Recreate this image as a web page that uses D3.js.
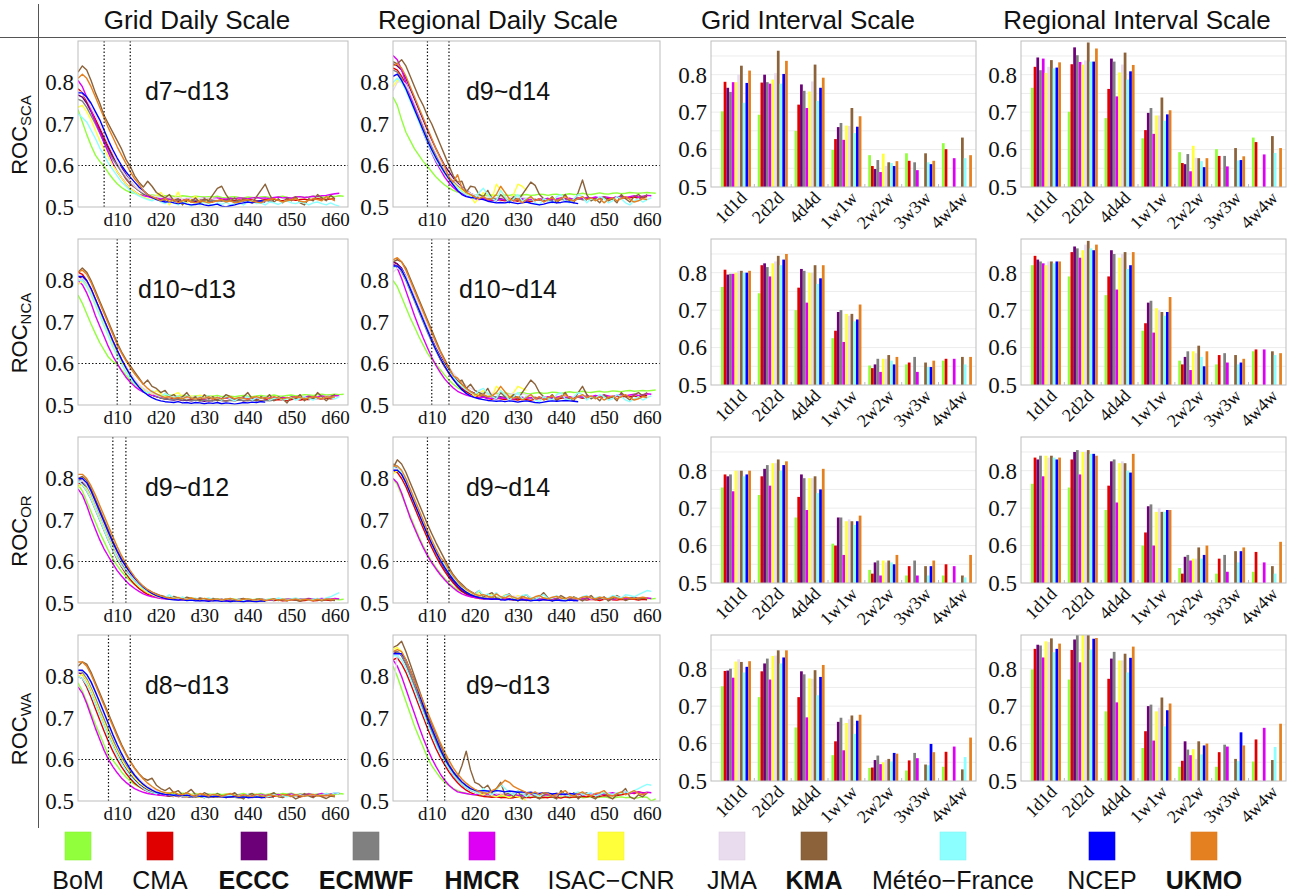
<!DOCTYPE html>
<html><head><meta charset="utf-8">
<script src="https://cdn.jsdelivr.net/npm/d3@7"></script>
<style>body{margin:0;background:#fff}svg{display:block}</style>
</head><body>
<svg id="c" width="1294" height="896"></svg>
<script>
// ---------------- DATA ----------------
const models = ["BoM","CMA","ECCC","ECMWF","HMCR","ISAC\u2212CNR","JMA","KMA","M\u00e9t\u00e9o\u2212France","NCEP","UKMO"];
const boldModels = ["ECCC","ECMWF","HMCR","KMA","UKMO"];
const colors = ["#91ff3b","#e00000","#6b0078","#808080","#dd00f5","#ffff3a","#e8dcee","#8b6239","#8cffff","#0000ff","#e58020"];
const regions = ["SCA","NCA","OR","WA"];
const colTitles = ["Grid Daily Scale","Regional Daily Scale","Grid Interval Scale","Regional Interval Scale"];
const yTicks = [0.5,0.6,0.7,0.8];
const dayTicks = [10,20,30,40,50,60];
const intervals = ["1d1d","2d2d","4d4d","1w1w","2w2w","3w3w","4w4w"];
const gridRanges = [[7,13],[10,13],[9,12],[8,13]];
const regRanges  = [[9,14],[10,14],[9,14],[9,13]];

// daily ROC, one array per model (model order), index 0 = day 1
const dailyGridSCA = [
[.735,.705,.675,.648,.625,.610,.598,.582,.568,.556,.547,.540,.535,.533,.531,.530,.528,.529,.527,.526,.527,.528,.526,.525,.527,.526,.524,.526,.525,.524,.525,.524,.526,.523,.522,.524,.525,.523,.522,.524,.523,.522,.524,.525,.523,.522,.524,.526,.523,.522,.524,.525,.523,.524,.526,.525,.523,.524,.526,.525,.527,.526],
[.785,.775,.755,.735,.712,.690,.668,.645,.625,.603,.585,.568,.555,.548,.540,.533,.528,.524,.522,.520,.519,.521,.518,.517,.519,.520,.518,.516,.518,.517,.519,.516,.515,.517,.518,.516,.515,.517,.516,.518,.517,.515,.516,.518,.517,.519,.516,.515,.517,.518,.516,.518,.519,.517,.518,.520,.519,.518,.520,.519],
[.77,.765,.75,.73,.705,.685,.66,.64,.62,.605,.595,.578,.562,.55,.54,.532,.527,.523,.52,.518,.517,.519,.515,.514,.516,.513,.515,.514,.512,.514,.513,.512],
[.76,.755,.74,.72,.70,.678,.655,.635,.615,.60,.585,.57,.558,.548,.54,.533,.528,.524,.521,.52,.518,.519,.517,.516,.518,.517,.515,.516,.517,.515,.514,.516,.515,.514,.516,.515,.513,.515,.514,.516,.515,.514,.515,.516,.514,.515],
[.805,.79,.765,.735,.705,.68,.655,.63,.605,.585,.57,.556,.545,.537,.53,.527,.525,.522,.521,.52,.522,.519,.52,.518,.52,.519,.521,.518,.52,.521,.519,.52,.522,.52,.519,.521,.52,.522,.521,.52,.522,.523,.521,.522,.52,.523,.524,.522,.523,.521,.524,.525,.523,.524,.526,.525,.527,.528,.53,.532,.533],
[.74,.745,.73,.71,.685,.66,.64,.62,.6,.585,.57,.556,.545,.537,.53,.524,.52,.516,.528,.535,.522,.505,.518,.536,.515,.51,.52,.526,.515,.51,.518,.522],
[.78,.775,.76,.74,.72,.698,.675,.652,.63,.608,.59,.575,.562,.55,.542,.535,.53,.527,.525,.523,.524,.522,.521,.523,.52,.522,.521,.519,.521,.52,.522,.52,.519],
[.825,.84,.83,.805,.775,.75,.72,.7,.68,.66,.64,.615,.598,.575,.56,.548,.562,.55,.535,.528,.522,.53,.515,.52,.505,.518,.512,.522,.51,.52,.515,.53,.545,.55,.53,.515,.522,.51,.52,.515,.51,.525,.54,.555,.53,.512,.52,.51,.522,.515,.525,.51,.505,.52,.515,.53,.522,.515,.528,.52],
[.725,.715,.705,.685,.665,.642,.625,.605,.59,.575,.56,.55,.54,.533,.527,.522,.518,.515,.52,.512,.508,.515,.51,.505,.512,.508,.502,.51,.505,.512,.508,.503,.51,.506,.512,.505,.508,.51,.505,.512,.515,.508,.51,.505,.512,.51,.506,.512,.515,.51,.508,.512,.51,.505,.51,.512,.508,.505,.51,.505,.502],
[.775,.775,.765,.75,.73,.71,.685,.66,.638,.618,.6,.585,.572,.56,.548,.54,.53,.523,.518,.515,.512,.513,.51,.508,.51,.507,.505,.506,.508,.505,.503,.505,.507,.502,.5,.503,.505,.508,.51,.512,.51,.513,.515,.512],
[.81,.82,.81,.79,.765,.74,.715,.69,.668,.645,.625,.605,.585,.568,.555,.54,.53,.525,.52,.515,.52,.513,.518,.51,.515,.518,.512,.51,.515,.513,.51,.512,.515,.518,.512,.515,.51,.512,.516,.518,.514,.512,.51,.515,.518,.52,.516,.512,.515,.518,.52,.514,.512,.516,.52,.518,.515,.525,.52,.515]
];
const dailyRegSCA = [
[.765,.745,.71,.68,.66,.64,.625,.61,.598,.585,.572,.562,.553,.546,.54,.536,.533,.531,.53,.529,.53,.528,.527,.529,.528,.527,.529,.528,.53,.527,.529,.53,.528,.529,.531,.53,.528,.53,.531,.529,.53,.532,.53,.531,.533,.531,.53,.532,.534,.532,.531,.533,.534,.532,.533,.535,.534,.533,.534,.535,.534,.533],
[.835,.83,.815,.795,.77,.745,.72,.695,.67,.645,.625,.605,.588,.572,.56,.55,.54,.533,.528,.524,.52,.522,.518,.516,.519,.517,.515,.518,.516,.514,.517,.515,.513,.516,.518,.515,.517,.519,.516,.518,.52,.517,.519,.521,.518,.52,.522,.519,.521,.523,.52,.522,.524,.521,.523,.522,.524,.521,.523,.525],
[.845,.84,.83,.81,.785,.76,.735,.71,.685,.662,.64,.62,.6,.585,.57,.558,.548,.54,.533,.528,.525,.522,.52,.523,.519,.521,.518,.52,.522,.519,.517,.52],
[.83,.825,.81,.79,.765,.74,.715,.69,.668,.645,.625,.607,.59,.575,.562,.552,.543,.536,.53,.526,.523,.521,.52,.522,.519,.518,.52,.517,.519,.518,.516,.518,.517,.519,.516,.518,.517,.515,.517,.519,.516,.518,.517,.519,.518,.516],
[.865,.855,.83,.8,.77,.74,.71,.68,.655,.63,.608,.59,.572,.558,.547,.538,.532,.527,.523,.52,.518,.52,.516,.518,.515,.519,.517,.52,.515,.518,.52,.517,.519,.516,.52,.518,.521,.517,.52,.522,.519,.521,.518,.522,.52,.523,.521,.524,.522,.525,.523,.521,.524,.526,.523,.525,.527,.524,.526,.528,.527],
[.79,.805,.8,.785,.76,.735,.71,.685,.66,.638,.618,.6,.585,.57,.558,.548,.54,.533,.528,.51,.522,.535,.528,.52,.555,.54,.525,.518,.53,.555,.55,.54],
[.78,.8,.805,.795,.775,.75,.725,.7,.675,.652,.63,.61,.592,.577,.565,.555,.546,.539,.533,.529,.526,.524,.523,.525,.522,.524,.521,.523,.525,.522,.524,.521,.523],
[.85,.845,.855,.84,.815,.79,.765,.745,.72,.7,.675,.65,.625,.6,.575,.56,.562,.535,.55,.548,.53,.525,.54,.52,.515,.53,.52,.51,.525,.515,.53,.545,.56,.552,.53,.52,.515,.525,.51,.52,.53,.515,.51,.535,.565,.53,.515,.52,.51,.525,.515,.52,.51,.53,.52,.512,.525,.53,.522,.53],
[.8,.81,.8,.78,.755,.73,.705,.68,.655,.632,.612,.595,.58,.566,.555,.545,.537,.53,.525,.52,.535,.545,.53,.52,.515,.54,.525,.51,.52,.53,.515,.52,.525,.51,.505,.52,.515,.51,.525,.53,.515,.51,.52,.53,.525,.51,.52,.515,.525,.52,.51,.515,.525,.52,.51,.505,.515,.52,.512,.518,.522],
[.815,.82,.805,.785,.76,.735,.71,.685,.66,.638,.618,.6,.583,.568,.553,.54,.53,.525,.523,.522,.52,.518,.514,.512,.51,.511,.51,.512,.51,.508,.51,.512,.509,.507,.505,.507,.51,.512,.51,.511,.513,.512,.51,.508],
[.84,.845,.835,.815,.79,.765,.74,.715,.69,.665,.64,.618,.598,.57,.56,.578,.545,.535,.53,.524,.52,.525,.518,.52,.53,.55,.535,.52,.515,.52,.51,.518,.525,.515,.52,.512,.518,.522,.515,.52,.525,.518,.515,.52,.525,.518,.522,.515,.52,.51,.518,.522,.515,.52,.525,.518,.512,.515,.52,.518]
];
const dailyGridNCA = [
[.765,.745,.72,.695,.672,.65,.632,.615,.605,.598,.585,.572,.56,.55,.542,.535,.53,.527,.525,.523,.522,.524,.522,.521,.523,.522,.52,.522,.521,.52,.522,.521,.523,.52,.522,.521,.52,.522,.523,.521,.52,.522,.523,.521,.522,.524,.522,.521,.523,.524,.522,.523,.525,.524,.523,.525,.526,.524,.525,.526,.525,.526],
[.82,.815,.8,.78,.755,.73,.705,.68,.655,.632,.61,.592,.575,.56,.548,.538,.53,.524,.52,.517,.515,.514,.516,.513,.512,.514,.513,.511,.513,.512,.51,.512,.514,.511,.51,.512,.511,.513,.51,.512,.511,.513,.51,.512,.514,.511,.513,.512,.51,.513,.515,.512,.514,.513,.515,.516,.514,.517,.515,.516],
[.81,.805,.795,.775,.75,.725,.7,.675,.65,.628,.608,.59,.574,.56,.548,.538,.53,.524,.52,.517,.515,.513,.512,.514,.511,.512,.51,.512,.511,.509,.511,.51],
[.8,.8,.79,.77,.745,.72,.695,.67,.648,.625,.605,.588,.572,.558,.546,.537,.53,.524,.52,.517,.515,.514,.513,.515,.512,.513,.511,.512,.51,.512,.511,.51,.512,.511,.509,.511,.51,.512,.511,.51,.512,.511,.509,.511,.51,.512],
[.8,.79,.77,.745,.715,.69,.665,.64,.618,.6,.582,.567,.555,.545,.537,.531,.527,.524,.522,.52,.519,.521,.518,.517,.519,.518,.516,.518,.517,.515,.517,.516,.518,.515,.517,.516,.514,.516,.518,.515,.517,.516,.518,.515,.517,.519,.516,.518,.517,.519,.52,.518,.519,.521,.519,.52,.522,.52,.521,.523,.522],
[.79,.8,.79,.77,.745,.72,.695,.67,.645,.622,.602,.585,.57,.557,.546,.538,.531,.526,.535,.528,.52,.518,.525,.53,.52,.515,.522,.518,.524,.52,.516,.522],
[.8,.805,.795,.775,.752,.728,.703,.678,.654,.63,.61,.592,.576,.562,.55,.541,.534,.528,.524,.521,.519,.518,.52,.517,.519,.516,.518,.52,.517,.519,.516,.518,.517],
[.82,.83,.82,.8,.775,.75,.725,.7,.675,.65,.628,.61,.595,.58,.565,.55,.56,.545,.54,.53,.535,.52,.525,.515,.52,.53,.515,.52,.51,.525,.515,.52,.51,.515,.525,.52,.51,.515,.52,.53,.515,.51,.52,.515,.525,.51,.52,.515,.505,.52,.515,.525,.51,.52,.515,.53,.52,.51,.52,.525],
[.8,.8,.785,.765,.74,.715,.69,.665,.64,.618,.598,.58,.565,.552,.542,.534,.528,.535,.525,.52,.528,.522,.518,.52,.515,.522,.518,.514,.52,.516,.522,.515,.518,.512,.52,.515,.51,.518,.515,.52,.512,.518,.515,.52,.512,.516,.518,.512,.515,.518,.512,.515,.52,.515,.512,.518,.515,.52,.518,.515,.52],
[.81,.81,.8,.78,.755,.73,.705,.68,.655,.632,.61,.59,.572,.556,.543,.532,.524,.518,.513,.51,.508,.507,.506,.508,.505,.506,.504,.506,.505,.503,.505,.504,.506,.503,.505,.504,.502,.504,.506,.505,.507,.506,.508,.507],
[.82,.825,.815,.795,.77,.745,.72,.695,.67,.645,.625,.607,.59,.575,.562,.55,.54,.532,.527,.522,.518,.52,.516,.518,.515,.52,.517,.514,.518,.516,.52,.515,.518,.514,.517,.52,.515,.518,.516,.514,.518,.52,.516,.518,.515,.52,.517,.514,.518,.516,.52,.518,.515,.517,.52,.518,.515,.52,.518,.52]
];
const dailyRegNCA = [
[.8,.785,.76,.735,.71,.688,.665,.645,.625,.61,.598,.585,.572,.56,.55,.542,.536,.532,.53,.528,.527,.529,.528,.526,.528,.527,.529,.527,.526,.528,.53,.528,.527,.529,.53,.528,.529,.531,.53,.528,.53,.532,.53,.531,.533,.531,.53,.532,.533,.531,.532,.534,.533,.532,.534,.535,.533,.534,.535,.534,.535,.536],
[.845,.84,.825,.805,.78,.755,.73,.705,.68,.655,.632,.61,.592,.576,.562,.55,.54,.532,.526,.522,.518,.52,.516,.514,.517,.515,.513,.516,.514,.512,.515,.513,.511,.514,.516,.513,.515,.517,.514,.516,.518,.515,.517,.519,.516,.518,.52,.517,.519,.521,.518,.52,.522,.519,.521,.52,.522,.519,.521,.523],
[.845,.84,.83,.81,.785,.76,.735,.71,.685,.66,.638,.618,.6,.584,.57,.558,.548,.54,.533,.528,.524,.521,.519,.522,.518,.52,.517,.519,.521,.518,.516,.519],
[.84,.835,.82,.8,.775,.75,.725,.7,.675,.652,.63,.61,.593,.578,.565,.554,.545,.537,.531,.527,.524,.522,.52,.522,.519,.518,.52,.517,.519,.518,.516,.518,.517,.519,.516,.518,.517,.515,.517,.519,.516,.518,.517,.519,.518,.516],
[.84,.83,.805,.775,.745,.715,.688,.662,.638,.615,.595,.578,.563,.551,.541,.533,.528,.524,.521,.519,.517,.519,.515,.517,.514,.518,.516,.519,.514,.517,.519,.516,.518,.515,.519,.517,.52,.516,.519,.521,.518,.52,.517,.521,.519,.522,.52,.523,.521,.524,.522,.52,.523,.525,.522,.524,.526,.523,.525,.527,.526],
[.83,.835,.825,.805,.78,.755,.73,.705,.68,.655,.632,.612,.595,.58,.566,.555,.546,.538,.532,.52,.528,.535,.525,.52,.545,.535,.525,.518,.53,.545,.54,.535],
[.82,.83,.825,.81,.79,.765,.74,.715,.69,.667,.645,.625,.607,.591,.577,.565,.555,.547,.54,.535,.531,.528,.526,.528,.525,.527,.524,.526,.528,.525,.527,.524,.526],
[.845,.85,.845,.83,.805,.78,.755,.73,.705,.68,.655,.63,.61,.59,.57,.555,.56,.54,.55,.535,.53,.525,.54,.52,.515,.53,.52,.515,.525,.515,.53,.545,.56,.55,.53,.52,.515,.525,.51,.52,.53,.515,.51,.53,.545,.525,.515,.52,.51,.525,.515,.52,.51,.53,.52,.512,.525,.53,.522,.53],
[.83,.835,.825,.805,.78,.755,.73,.705,.68,.655,.633,.613,.596,.58,.567,.555,.545,.537,.53,.525,.535,.54,.528,.52,.515,.535,.525,.512,.52,.53,.515,.52,.525,.512,.508,.52,.515,.512,.525,.53,.515,.512,.52,.53,.525,.512,.52,.515,.525,.52,.512,.515,.525,.52,.512,.508,.515,.52,.512,.518,.522],
[.835,.835,.825,.805,.78,.755,.73,.705,.68,.655,.632,.612,.594,.577,.562,.548,.537,.528,.522,.518,.515,.513,.511,.51,.509,.51,.508,.51,.509,.507,.509,.51,.508,.506,.505,.507,.509,.51,.509,.51,.511,.51,.509,.508],
[.85,.855,.845,.825,.8,.775,.75,.725,.7,.675,.65,.628,.607,.588,.57,.565,.55,.54,.532,.526,.522,.525,.52,.522,.53,.545,.532,.52,.516,.52,.512,.518,.525,.515,.52,.512,.518,.522,.515,.52,.525,.518,.515,.52,.525,.518,.522,.515,.52,.512,.518,.522,.515,.52,.525,.518,.512,.515,.52,.518]
];
const dailyGridOR = [
[.785,.77,.745,.72,.695,.67,.648,.626,.606,.59,.576,.564,.553,.544,.536,.53,.525,.521,.518,.516,.514,.513,.512,.511,.512,.51,.511,.51,.509,.51,.511,.509,.51,.509,.508,.51,.509,.508,.509,.51,.508,.509,.51,.508,.509,.51,.508,.509,.51,.509,.508,.51,.509,.508,.51,.509,.508,.509,.51,.509,.508,.509],
[.79,.785,.77,.75,.725,.7,.675,.65,.627,.605,.587,.571,.557,.545,.535,.527,.521,.517,.514,.512,.511,.51,.509,.51,.508,.509,.507,.508,.506,.508,.507,.506,.508,.507,.505,.507,.506,.508,.507,.505,.507,.506,.505,.507,.508,.506,.507,.505,.506,.508,.507,.505,.506,.507,.505,.506,.508,.507,.506,.507],
[.795,.79,.775,.755,.73,.705,.68,.655,.632,.61,.592,.577,.563,.551,.541,.533,.526,.521,.517,.514,.512,.511,.51,.509,.51,.508,.509,.507,.508,.507,.506,.507],
[.8,.795,.78,.76,.735,.71,.685,.66,.637,.615,.597,.58,.566,.553,.542,.533,.526,.52,.516,.513,.511,.51,.509,.508,.509,.507,.508,.507,.506,.507,.508,.506,.507,.505,.506,.507,.505,.506,.507,.505,.506,.504,.506,.505,.507,.506],
[.775,.76,.735,.705,.678,.652,.63,.612,.595,.578,.565,.553,.543,.535,.528,.522,.518,.515,.513,.511,.51,.509,.51,.508,.509,.507,.508,.509,.507,.508,.506,.508,.507,.509,.506,.508,.507,.509,.508,.506,.508,.507,.509,.508,.507,.509,.51,.508,.509,.51,.508,.509,.51,.511,.509,.51,.511,.51,.509,.511,.51],
[.78,.785,.775,.755,.73,.705,.68,.655,.632,.61,.59,.575,.562,.55,.54,.532,.525,.52,.516,.513,.515,.512,.51,.514,.511,.509,.512,.51,.508,.511,.509,.51],
[.79,.795,.785,.765,.74,.715,.69,.665,.641,.619,.6,.584,.57,.558,.547,.538,.531,.525,.52,.517,.514,.512,.511,.512,.51,.511,.509,.51,.511,.509,.51,.508,.509],
[.8,.805,.795,.775,.75,.725,.7,.675,.65,.627,.607,.59,.575,.562,.55,.54,.532,.526,.522,.518,.515,.513,.516,.512,.51,.514,.511,.508,.512,.51,.507,.511,.509,.506,.51,.508,.505,.509,.511,.507,.505,.509,.51,.506,.508,.51,.506,.508,.505,.509,.507,.504,.508,.51,.506,.508,.505,.509,.507,.506],
[.795,.785,.77,.75,.725,.7,.675,.65,.628,.607,.59,.575,.563,.552,.543,.535,.528,.523,.519,.515,.513,.52,.512,.51,.515,.508,.51,.512,.507,.51,.512,.508,.51,.506,.509,.511,.507,.509,.506,.51,.508,.505,.509,.507,.51,.508,.512,.509,.507,.51,.512,.508,.51,.507,.509,.511,.508,.512,.515,.52,.525],
[.8,.8,.79,.77,.745,.72,.695,.67,.646,.624,.604,.588,.573,.56,.548,.538,.53,.523,.518,.514,.511,.509,.508,.507,.508,.506,.507,.505,.506,.505,.504,.506,.505,.504,.505,.503,.505,.504,.503,.505,.504,.503,.505,.504],
[.81,.81,.8,.782,.76,.735,.71,.685,.66,.636,.614,.595,.578,.563,.55,.54,.532,.526,.521,.517,.514,.512,.511,.513,.51,.509,.512,.51,.508,.511,.509,.508,.51,.507,.509,.511,.508,.506,.509,.51,.508,.507,.509,.506,.508,.51,.507,.509,.506,.508,.51,.507,.509,.508,.506,.509,.507,.51,.508,.509]
];
const dailyRegOR = [
[.8,.785,.76,.735,.71,.685,.66,.638,.618,.6,.585,.571,.559,.548,.539,.532,.527,.523,.52,.518,.516,.515,.514,.513,.514,.512,.513,.512,.511,.512,.513,.511,.512,.511,.51,.512,.511,.51,.511,.512,.51,.511,.512,.51,.511,.512,.51,.511,.512,.511,.51,.512,.511,.51,.512,.511,.51,.511,.512,.511,.51,.511],
[.82,.815,.8,.78,.755,.73,.705,.68,.656,.633,.612,.593,.576,.561,.548,.537,.528,.521,.516,.513,.511,.51,.512,.509,.51,.508,.51,.509,.507,.509,.508,.506,.508,.51,.507,.509,.508,.506,.508,.509,.507,.508,.506,.508,.51,.507,.509,.508,.506,.509,.51,.508,.507,.509,.508,.51,.509,.507,.509,.508],
[.83,.825,.81,.79,.765,.74,.715,.69,.665,.642,.62,.6,.582,.566,.552,.54,.53,.523,.518,.515,.513,.511,.51,.512,.509,.51,.508,.51,.509,.507,.509,.508],
[.835,.83,.815,.795,.77,.745,.72,.695,.67,.647,.625,.605,.588,.572,.558,.546,.536,.528,.522,.518,.515,.513,.512,.51,.511,.509,.51,.508,.51,.509,.507,.509,.508,.51,.507,.509,.508,.506,.508,.51,.507,.509,.508,.51,.509,.507],
[.8,.79,.765,.735,.705,.68,.656,.634,.614,.597,.582,.568,.556,.545,.536,.528,.522,.518,.515,.513,.512,.51,.511,.509,.51,.508,.51,.509,.511,.508,.51,.509,.511,.508,.51,.509,.507,.509,.511,.508,.51,.509,.511,.508,.51,.512,.509,.511,.51,.512,.51,.508,.511,.513,.51,.512,.514,.511,.513,.512,.511],
[.81,.82,.81,.79,.765,.74,.715,.69,.666,.643,.622,.603,.586,.571,.558,.547,.538,.53,.524,.52,.525,.518,.515,.522,.516,.512,.52,.515,.51,.518,.514,.512],
[.82,.825,.815,.795,.77,.745,.72,.695,.671,.648,.627,.607,.59,.575,.562,.55,.54,.532,.526,.521,.518,.516,.515,.517,.514,.516,.513,.515,.517,.514,.516,.513,.515],
[.825,.845,.835,.815,.79,.765,.74,.715,.69,.667,.645,.625,.605,.585,.568,.555,.545,.535,.528,.522,.53,.515,.52,.525,.512,.51,.518,.522,.51,.505,.515,.52,.51,.508,.515,.525,.512,.505,.51,.518,.512,.506,.515,.51,.505,.512,.518,.508,.51,.515,.505,.51,.518,.512,.506,.51,.515,.508,.512,.51],
[.825,.83,.815,.795,.77,.745,.72,.695,.671,.648,.627,.608,.591,.576,.562,.55,.54,.532,.526,.52,.53,.518,.522,.515,.525,.512,.518,.52,.512,.51,.518,.52,.512,.508,.515,.52,.51,.512,.518,.51,.508,.515,.512,.51,.515,.518,.51,.512,.515,.51,.512,.518,.515,.512,.52,.518,.515,.52,.525,.53,.528],
[.82,.82,.81,.79,.765,.74,.715,.69,.666,.643,.622,.603,.586,.57,.556,.544,.534,.526,.52,.516,.513,.511,.51,.509,.51,.508,.507,.509,.508,.506,.508,.507,.505,.507,.506,.508,.507,.505,.507,.506,.505,.507,.506,.505],
[.83,.83,.82,.8,.775,.75,.725,.7,.675,.652,.63,.61,.598,.58,.565,.552,.541,.533,.527,.521,.518,.52,.516,.514,.522,.515,.512,.518,.514,.51,.516,.512,.51,.515,.518,.512,.51,.514,.516,.512,.51,.515,.512,.51,.514,.516,.512,.51,.514,.512,.51,.515,.512,.51,.514,.512,.51,.512,.514,.512]
];
const dailyGridWA = [
[.785,.765,.74,.712,.685,.66,.635,.61,.598,.585,.57,.558,.548,.54,.534,.529,.525,.522,.52,.519,.518,.52,.518,.517,.519,.518,.516,.518,.517,.515,.517,.516,.518,.515,.517,.516,.514,.516,.518,.515,.517,.516,.518,.515,.517,.519,.516,.518,.517,.519,.515,.517,.516,.518,.515,.517,.516,.518,.517,.516,.518,.517],
[.8,.795,.775,.75,.722,.695,.668,.643,.62,.6,.582,.567,.554,.543,.535,.528,.523,.519,.516,.514,.513,.512,.514,.511,.512,.51,.511,.513,.51,.512,.511,.509,.511,.51,.512,.509,.511,.51,.512,.509,.511,.51,.512,.511,.509,.511,.513,.51,.512,.511,.513,.51,.512,.514,.511,.513,.512,.514,.512,.513],
[.81,.805,.79,.768,.742,.715,.69,.665,.64,.618,.598,.58,.565,.552,.541,.533,.527,.522,.518,.515,.514,.512,.511,.513,.51,.511,.509,.511,.51,.508,.51,.509],
[.815,.81,.795,.773,.748,.722,.697,.672,.648,.625,.605,.587,.571,.557,.546,.537,.53,.524,.52,.517,.515,.513,.512,.511,.512,.51,.511,.509,.511,.51,.508,.51,.509,.511,.508,.51,.509,.507,.509,.511,.508,.51,.509,.511,.51,.508],
[.775,.76,.735,.705,.675,.648,.622,.6,.583,.568,.555,.545,.537,.53,.525,.521,.518,.516,.515,.514,.513,.515,.512,.514,.513,.511,.513,.512,.514,.511,.513,.512,.514,.511,.513,.515,.512,.514,.513,.515,.512,.514,.516,.513,.515,.514,.516,.513,.515,.517,.514,.516,.515,.517,.515,.516,.518,.516,.517,.519,.518],
[.8,.805,.79,.768,.742,.715,.69,.665,.641,.62,.6,.583,.568,.556,.545,.537,.53,.525,.52,.517,.52,.514,.512,.516,.512,.51,.514,.512,.509,.513,.511,.51],
[.81,.815,.805,.785,.76,.734,.708,.682,.658,.635,.614,.596,.58,.566,.554,.544,.536,.53,.525,.521,.518,.516,.515,.517,.514,.516,.513,.515,.517,.514,.516,.513,.515],
[.825,.835,.83,.81,.785,.76,.735,.71,.685,.66,.636,.615,.596,.58,.566,.555,.55,.555,.538,.53,.525,.532,.52,.525,.515,.52,.528,.515,.512,.52,.515,.51,.518,.512,.508,.515,.52,.51,.505,.515,.518,.51,.512,.508,.515,.52,.51,.508,.515,.512,.505,.51,.518,.512,.508,.515,.51,.506,.512,.51],
[.8,.795,.78,.758,.732,.706,.68,.655,.632,.61,.59,.574,.56,.548,.538,.53,.524,.52,.517,.522,.515,.518,.513,.516,.512,.515,.51,.514,.512,.509,.513,.511,.515,.51,.512,.514,.51,.513,.511,.515,.51,.512,.514,.51,.512,.515,.511,.513,.51,.514,.512,.515,.511,.513,.516,.512,.515,.518,.515,.52,.518],
[.815,.815,.805,.787,.763,.738,.712,.686,.66,.636,.614,.594,.577,.562,.55,.54,.532,.526,.521,.518,.516,.515,.514,.515,.513,.514,.512,.513,.511,.512,.51,.511,.512,.51,.509,.51,.511,.509,.51,.508,.509,.51,.508,.509],
[.835,.835,.825,.805,.78,.755,.73,.705,.68,.655,.632,.612,.595,.578,.565,.553,.543,.535,.528,.523,.52,.518,.522,.516,.515,.52,.514,.512,.518,.515,.512,.516,.514,.511,.515,.518,.513,.511,.515,.513,.511,.516,.513,.511,.515,.513,.511,.516,.514,.512,.515,.513,.511,.514,.516,.512,.514,.513,.515,.512]
];
const dailyRegWA = [
[.825,.8,.77,.74,.71,.68,.655,.63,.605,.585,.57,.556,.545,.537,.53,.525,.521,.518,.516,.515,.514,.513,.512,.511,.512,.511,.51,.511,.51,.509,.51,.511,.509,.51,.509,.508,.51,.509,.508,.51,.509,.508,.509,.51,.508,.509,.51,.508,.509,.51,.508,.507,.509,.51,.508,.509,.507,.508,.51,.509,.5,.505],
[.84,.845,.83,.81,.785,.758,.73,.703,.676,.65,.626,.605,.587,.57,.556,.544,.534,.526,.52,.516,.513,.511,.51,.509,.51,.508,.509,.507,.508,.51,.507,.509,.508,.51,.507,.509,.508,.51,.509,.507,.51,.508,.51,.509,.511,.51,.512,.51,.511,.513,.512,.514,.513,.515,.517,.52,.518,.522,.52,.518],
[.855,.86,.85,.83,.805,.778,.75,.722,.695,.668,.642,.618,.597,.579,.563,.55,.54,.532,.526,.522,.519,.517,.516,.518,.515,.517,.514,.516,.515,.513,.515,.514],
[.86,.86,.85,.83,.805,.778,.75,.722,.695,.668,.643,.62,.6,.582,.567,.554,.544,.536,.53,.525,.522,.52,.518,.52,.517,.518,.516,.518,.517,.515,.517,.516,.518,.515,.517,.516,.514,.516,.518,.515,.517,.516,.518,.515,.517,.516],
[.84,.825,.8,.77,.74,.71,.68,.652,.626,.603,.583,.565,.55,.538,.529,.522,.52,.518,.516,.515,.517,.514,.516,.513,.515,.514,.516,.513,.515,.514,.512,.514,.516,.513,.515,.514,.516,.513,.515,.517,.514,.516,.515,.517,.514,.516,.518,.515,.517,.516,.518,.52,.517,.519,.521,.518,.52,.522,.519,.521,.52],
[.865,.87,.86,.84,.815,.788,.76,.732,.705,.678,.652,.628,.607,.588,.571,.557,.545,.535,.528,.522,.518,.515,.52,.513,.51,.515,.512,.508,.513,.51,.507,.5],
[.77,.85,.855,.84,.815,.79,.762,.735,.708,.682,.657,.634,.612,.593,.576,.562,.55,.54,.533,.527,.523,.52,.518,.52,.517,.519,.516,.518,.52,.517,.519,.516,.518],
[.87,.875,.885,.86,.83,.8,.77,.74,.705,.685,.66,.635,.61,.588,.57,.558,.585,.62,.575,.545,.54,.53,.538,.52,.53,.545,.515,.52,.51,.525,.505,.515,.52,.51,.505,.515,.52,.51,.505,.525,.515,.51,.52,.505,.515,.52,.51,.505,.515,.52,.51,.505,.515,.52,.53,.51,.505,.515,.51,.52],
[.85,.85,.84,.82,.795,.768,.74,.712,.685,.66,.636,.614,.595,.578,.563,.55,.54,.532,.526,.522,.518,.53,.52,.515,.525,.54,.53,.52,.515,.525,.518,.51,.52,.515,.512,.518,.52,.512,.516,.52,.515,.512,.518,.522,.515,.518,.52,.512,.516,.52,.518,.515,.52,.518,.522,.52,.525,.53,.535,.54,.538],
[.855,.855,.855,.84,.815,.79,.76,.73,.7,.675,.65,.625,.603,.585,.57,.557,.546,.537,.53,.526,.524,.525,.524,.523,.525,.524,.522,.524,.523,.521,.522,.52,.521,.519,.518,.52,.519,.517,.518,.517,.516,.518,.517,.516],
[.86,.865,.86,.84,.815,.79,.765,.74,.715,.69,.665,.64,.618,.598,.58,.565,.553,.543,.535,.528,.523,.52,.518,.525,.53,.54,.55,.545,.535,.53,.525,.52,.518,.522,.515,.52,.518,.512,.516,.52,.525,.515,.512,.518,.522,.515,.512,.518,.52,.525,.515,.512,.518,.522,.515,.52,.525,.518,.515,.52]
];

// interval ROC: one array per interval group, values in model order (null = not available)
const intervalGridSCA = [
[.702,.781,.765,.754,.780,.780,.800,.824,.725,.778,.811],
[.693,.779,.800,.780,.776,.787,.804,.864,.776,.802,.837],
[.650,.720,.774,.757,.711,.755,.782,.827,.730,.765,.792],
[.599,.628,.660,.671,.626,.664,.663,.711,.644,.661,.689],
[.585,.556,.548,.572,.540,.589,.556,.566,.564,.556,.569],
[.590,.570,null,.566,.545,null,null,.590,.566,.561,.570],
[.617,.601,null,null,.577,null,null,.632,.577,null,.585]
];
const intervalRegSCA = [
[.765,.821,.846,.812,.843,.805,.821,.839,.817,.819,.833],
[.701,.828,.873,.852,.834,.827,.838,.886,.835,.835,.870],
[.684,.762,.843,.835,.742,.806,.827,.859,.787,.809,.826],
[.630,.652,.698,.711,.642,.691,.691,.739,.677,.694,.705],
[.593,.564,.561,.588,.542,.610,.578,.577,.569,.553,.577],
[.601,.583,null,.583,.555,null,null,.604,.571,.572,.582],
[.632,.620,null,null,.587,null,null,.636,.591,null,.604]
];
const intervalGridNCA = [
[.762,.808,.795,.797,.797,.800,.805,.805,.800,.800,.805],
[.745,.820,.825,.815,.790,.825,.830,.845,.820,.835,.850],
[.700,.760,.810,.805,.720,.800,.800,.820,.770,.785,.820],
[.625,.645,.695,.700,.615,.690,.685,.690,.670,.675,.715],
[.552,.545,.555,.570,.535,.570,.570,.580,.565,.555,.575],
[.555,.560,null,.575,.535,null,null,.560,.548,.548,.565],
[.565,.570,null,null,.570,null,null,.575,.555,null,.575]
];
const intervalRegNCA = [
[.820,.845,.835,.830,.825,.820,.830,.830,.825,.830,.830],
[.790,.855,.870,.865,.840,.860,.875,.885,.865,.860,.875],
[.740,.790,.860,.850,.755,.840,.850,.855,.810,.820,.855],
[.645,.665,.720,.725,.640,.705,.700,.695,.685,.695,.735],
[.565,.555,.575,.590,.540,.590,.585,.605,.575,.550,.590],
[.555,.580,null,.585,.560,null,null,.580,.555,.560,.570],
[.590,.595,null,null,.595,null,null,.590,.580,null,.585]
];
const intervalGridOR = [
[.755,.790,.785,.790,.745,.800,.800,.800,.785,.790,.800],
[.735,.785,.805,.815,.760,.820,.820,.830,.800,.815,.825],
[.675,.730,.790,.780,.695,.780,.780,.785,.740,.750,.805],
[.605,.600,.675,.675,.575,.665,.670,.665,.655,.665,.680],
[.535,.525,.555,.560,.520,.560,.555,.560,.555,.550,.575],
[.520,.545,null,.560,.520,null,null,.545,.520,.545,.560],
[.520,.550,null,null,.545,null,null,.520,.515,null,.575]
];
const intervalRegOR = [
[.765,.835,.830,.840,.785,.840,.835,.840,.835,.830,.835],
[.755,.830,.850,.855,.790,.850,.850,.855,.845,.845,.840],
[.695,.760,.825,.830,.715,.820,.825,.820,.800,.795,.845],
[.600,.635,.705,.710,.600,.690,.700,.690,.690,.695,.695],
[.540,.525,.570,.575,.560,.565,.565,.595,.565,.575,.600],
[.525,.565,null,.575,.530,null,null,.585,.555,.585,.595],
[.530,.583,null,null,.555,null,null,.545,.525,null,.610]
];
const intervalGridWA = [
[.753,.794,.795,.800,.776,.819,.825,.818,.790,.805,.820],
[.724,.793,.814,.827,.771,.834,.835,.849,.814,.830,.849],
[.643,.724,.793,.785,.670,.774,.773,.796,.729,.778,.810],
[.569,.606,.658,.669,.582,.655,.665,.675,.626,.661,.677],
[.535,.536,.556,.568,.545,.550,.556,.559,.552,.575,.573],
[.528,.555,null,.575,.561,null,null,.544,.542,.599,.577],
[.538,.578,null,null,.592,null,null,.531,.564,null,.616]
];
const intervalRegWA = [
[.798,.853,.864,.862,.830,.873,.871,.881,.844,.853,.867],
[.771,.850,.878,.890,.817,.890,.889,.890,.851,.880,.882],
[.686,.773,.827,.845,.710,.822,.822,.840,.790,.829,.859],
[.588,.633,.700,.704,.608,.686,.696,.723,.646,.689,.707],
[.538,.554,.606,.584,.569,.585,.559,.606,.571,.595,.600],
[.538,.577,null,.597,.592,null,null,.559,.553,.630,.595],
[.552,.611,null,null,.642,null,null,.556,.591,null,.653]
];

// ---------------- LAYOUT ----------------
const dailyPanels = [[dailyGridSCA,dailyRegSCA],[dailyGridNCA,dailyRegNCA],[dailyGridOR,dailyRegOR],[dailyGridWA,dailyRegWA]];
const intervalPanels = [[intervalGridSCA,intervalRegSCA],[intervalGridNCA,intervalRegNCA],[intervalGridOR,intervalRegOR],[intervalGridWA,intervalRegWA]];
const serif = "Liberation Serif";
const sans = "Liberation Sans";
const lineCols = [{x0:78,x1:348,tx:187},{x0:393,x1:660,tx:508}];
const barCols = [{x0:711,x1:976},{x0:1021,x1:1286}];
const colCenters = [197,498,808,1137];
const rowTops = [41,239,437,635];
const lineH = 166, barH = 146;
const legendX = [78,160,254,366,482,611,732,814,953,1102,1204];

const svg = d3.select("#c");
svg.append("rect").attr("width",1294).attr("height",896).attr("fill","#fff");

svg.append("line").attr("x1",0).attr("x2",1286).attr("y1",37.5).attr("y2",37.5).attr("stroke","#555").attr("stroke-width",1);
svg.append("line").attr("x1",38.5).attr("x2",38.5).attr("y1",4).attr("y2",828).attr("stroke","#555").attr("stroke-width",1);

colTitles.forEach((t,i)=>{
  svg.append("text").attr("x",colCenters[i]).attr("y",29).attr("text-anchor","middle")
    .style("font-family",sans).style("font-size","26px").attr("fill","#111").text(t);
});

regions.forEach((r,i)=>{
  const cy = rowTops[i]+94;
  const t = svg.append("text").attr("transform",`translate(27,${cy}) rotate(-90)`)
    .attr("text-anchor","middle").style("font-family",sans).style("font-size","22px").attr("fill","#111");
  t.append("tspan").text("ROC");
  t.append("tspan").style("font-size","15px").attr("dy",4).text(r);
});

function styleAxis(s,size){
  s.select(".domain").remove();
  s.attr("font-family",null).attr("font-size",null);
  s.selectAll("text").style("font-family",serif).style("font-size",size+"px").attr("fill","#111");
}

rowTops.forEach((top,r)=>{
  lineCols.forEach((c,k)=>{
    const data = dailyPanels[r][k];
    const x = d3.scaleLinear().domain([1,63]).range([c.x0,c.x1]);
    const y = d3.scaleLinear().domain([0.5,0.9]).range([top+lineH,top]);
    const g = svg.append("g");
    const cid = `clip${r}_${k}`;
    g.append("clipPath").attr("id",cid).append("rect").attr("x",c.x0).attr("y",top).attr("width",c.x1-c.x0).attr("height",lineH);
    g.append("g").attr("transform",`translate(${c.x0-1},0)`)
      .call(d3.axisLeft(y).tickValues(yTicks).tickSize(0).tickPadding(3).tickFormat(d3.format(".1f")))
      .call(s=>styleAxis(s,23));
    g.append("g").attr("transform",`translate(0,${top+lineH})`)
      .call(d3.axisBottom(x).tickValues(dayTicks).tickSize(0).tickPadding(6).tickFormat(d=>"d"+d))
      .call(s=>styleAxis(s,19));
    const lg = g.append("g").attr("clip-path",`url(#${cid})`);
    const line = d3.line().x((v,i)=>x(i+1)).y(v=>y(v));
    data.forEach((vals,m)=>{
      lg.append("path").attr("d",line(vals)).attr("fill","none")
        .attr("stroke",colors[m]).attr("stroke-width",1.4).attr("stroke-linejoin","round");
    });
    const rng = (k===0?gridRanges:regRanges)[r];
    rng.forEach(d=>{
      g.append("line").attr("x1",x(d)).attr("x2",x(d)).attr("y1",top).attr("y2",top+lineH)
        .attr("stroke","#111").attr("stroke-width",1.2).attr("stroke-dasharray","1.5,2");
    });
    g.append("line").attr("x1",c.x0).attr("x2",c.x1).attr("y1",y(0.6)).attr("y2",y(0.6))
      .attr("stroke","#111").attr("stroke-width",1.2).attr("stroke-dasharray","1.5,2");
    g.append("rect").attr("x",c.x0).attr("y",top).attr("width",c.x1-c.x0).attr("height",lineH)
      .attr("fill","none").attr("stroke","#bdbdbd");
    g.append("text").attr("x",c.tx).attr("y",top+59).attr("text-anchor","middle")
      .style("font-family",sans).style("font-size","25px").attr("fill","#111")
      .text(`d${rng[0]}~d${rng[1]}`);
  });
});

rowTops.forEach((top,r)=>{
  barCols.forEach((c,k)=>{
    const data = intervalPanels[r][k];
    const x0 = d3.scaleBand().domain(intervals).range([c.x0,c.x1]).paddingInner(0.185).paddingOuter(0.19).align(0.71);
    const x1 = d3.scaleBand().domain(d3.range(models.length)).range([0,x0.bandwidth()]);
    const y = d3.scaleLinear().domain([0.5,0.89]).range([top+barH,top]);
    const g = svg.append("g");
    d3.range(0.55,0.89,0.05).forEach(v=>{
      g.append("line").attr("x1",c.x0).attr("x2",c.x1).attr("y1",y(v)).attr("y2",y(v))
        .attr("stroke","#ececec").attr("stroke-width",1);
    });
    data.forEach((grp,gi)=>{
      grp.forEach((v,m)=>{
        if(v===null) return;
        const vv = Math.min(v,0.89);
        g.append("rect").attr("x",x0(intervals[gi])+x1(m)).attr("width",x1.bandwidth())
          .attr("y",y(vv)).attr("height",y(0.5)-y(vv)).attr("fill",colors[m]);
      });
    });
    intervals.forEach((iv,gi)=>{
      if(gi===0) return;
      const xm = x0(iv) - x0.step()*x0.paddingInner()/2;
      g.append("line").attr("x1",xm).attr("x2",xm).attr("y1",top+barH).attr("y2",top+barH-3).attr("stroke","#aaa").attr("stroke-width",0.8);
    });
    g.append("rect").attr("x",c.x0).attr("y",top).attr("width",c.x1-c.x0).attr("height",barH)
      .attr("fill","none").attr("stroke","#bdbdbd");
    g.append("g").attr("transform",`translate(${c.x0-1},0)`)
      .call(d3.axisLeft(y).tickValues(yTicks).tickSize(0).tickPadding(3).tickFormat(d3.format(".1f")))
      .call(s=>styleAxis(s,23));
    intervals.forEach(iv=>{
      const cx = x0(iv)+x0.bandwidth()/2;
      g.append("text").attr("transform",`translate(${cx+12},${top+barH+12}) rotate(-45)`)
        .attr("text-anchor","end").style("font-family",serif).style("font-size","18px").attr("fill","#111").text(iv);
    });
  });
});

models.forEach((m,i)=>{
  const cx = legendX[i];
  svg.append("rect").attr("x",cx-13).attr("y",832).attr("width",26).attr("height",28)
    .attr("fill",colors[i]).attr("stroke",d3.color(colors[i]).darker(0.15)).attr("stroke-width",0.6);
  const plain = m.replace(/\u2212/g,"-");
  svg.append("text").attr("x",cx).attr("y",889).attr("text-anchor","middle")
    .style("font-family",sans).style("font-size","25px").attr("fill","#111")
    .style("font-weight",boldModels.includes(plain)?"bold":"normal").text(m);
});
</script>
</body></html>
